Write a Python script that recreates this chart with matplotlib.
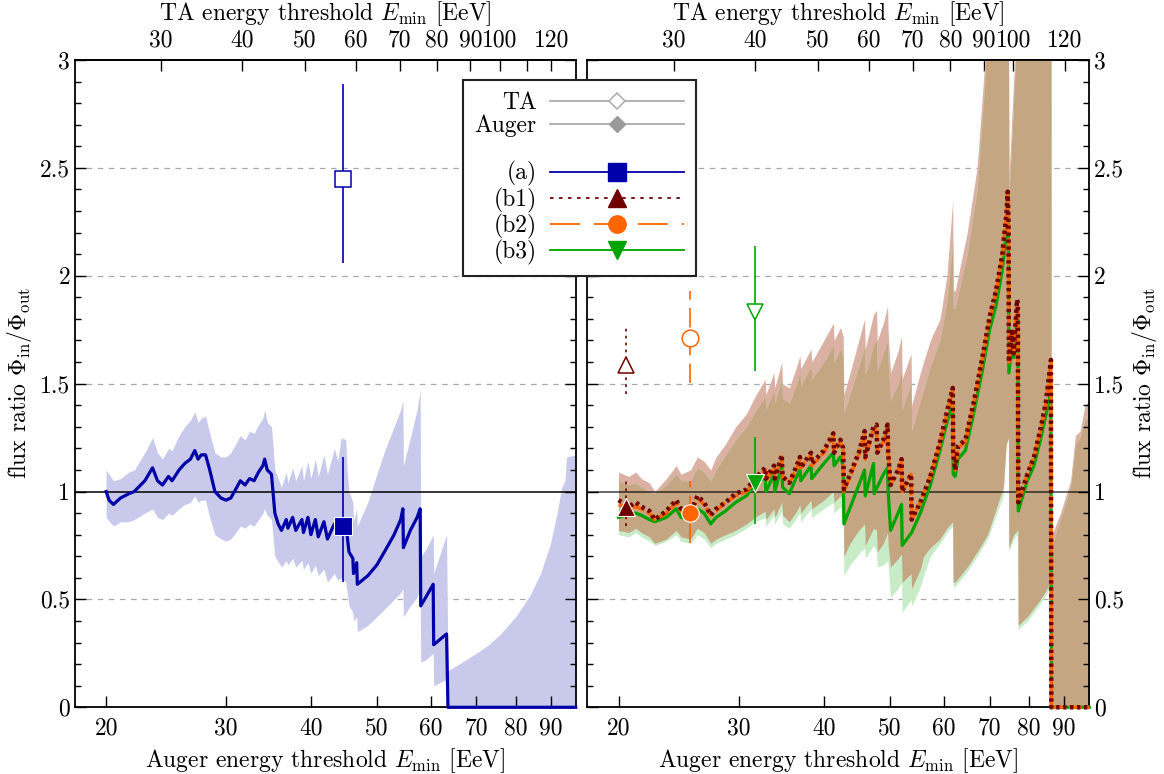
import numpy as np
import matplotlib
matplotlib.use("Agg")
import matplotlib.pyplot as plt
from matplotlib.lines import Line2D
from matplotlib.ticker import NullLocator, NullFormatter, FixedLocator, MultipleLocator

plt.rcParams['font.family'] = 'serif'
plt.rcParams['font.serif'] = ['cmr10']
plt.rcParams['mathtext.fontset'] = 'cm'
plt.rcParams['axes.unicode_minus'] = False
plt.rcParams['axes.formatter.use_mathtext'] = True
plt.rcParams['lines.scale_dashes'] = False
FS = 17

# ---------------- data ----------------
# (a): left panel, Auger energy [EeV] vs flux ratio
a_x = [20.0, 20.2, 20.5, 21.0, 21.6, 22.0, 22.8, 23.4, 23.8, 24.2, 24.7, 25.0, 25.6, 26.1, 26.6,
       27.0, 27.3, 27.6, 28.0, 28.4, 28.9, 29.5, 30.0, 30.5, 31.0, 31.5, 32.0, 32.5, 33.0, 33.5,
       34.0, 34.2, 34.5, 35.0, 35.4, 35.8, 36.2, 36.8, 37.0, 37.6, 38.0, 38.8, 39.0, 39.6, 40.0,
       40.6, 41.0, 41.8, 42.3, 43.3, 43.8, 44.3, 45.0, 45.2, 45.5, 46.1, 46.2, 46.7, 46.8, 48.5,
       50.0, 51.5, 53.0, 54.2, 54.6, 54.7, 56.0, 57.3, 57.9, 58.0, 59.0, 60.5, 60.6, 63.3, 63.6, 98.0]
a_y = [1.00, 0.96, 0.94, 0.97, 0.99, 1.00, 1.05, 1.11, 1.05, 1.03, 1.07, 1.05, 1.10, 1.13, 1.15,
       1.19, 1.15, 1.17, 1.17, 1.10, 1.00, 0.97, 0.96, 0.97, 1.01, 1.05, 1.03, 1.06, 1.05, 1.09,
       1.12, 1.15, 1.10, 1.08, 0.90, 0.85, 0.82, 0.87, 0.83, 0.88, 0.82, 0.87, 0.81, 0.88, 0.80,
       0.87, 0.79, 0.86, 0.78, 0.85, 0.80, 0.85, 0.84, 0.80, 0.72, 0.69, 0.62, 0.67, 0.57, 0.61,
       0.66, 0.73, 0.80, 0.87, 0.92, 0.74, 0.82, 0.88, 0.92, 0.47, 0.51, 0.57, 0.29, 0.34, 0.00, 0.00]

a_band_x = [20.0, 20.5, 21.0, 21.6, 22.0, 22.8, 23.4, 23.8, 24.2, 24.7, 25.0, 25.6, 26.1, 26.6, 27.0,
            27.3, 27.6, 28.0, 28.4, 28.9, 29.5, 30.0, 30.5, 31.0, 31.5, 32.0, 32.5, 33.0, 33.5, 34.0,
            34.2, 34.5, 35.0, 35.4, 36.2, 36.8, 37.0, 37.6, 38.0, 38.8, 39.0, 39.6, 40.0, 40.6, 41.0,
            41.8, 42.3, 43.3, 43.8, 44.3, 45.0, 45.2, 45.5, 46.1, 46.2, 46.7, 46.8, 48.5, 50.0, 51.5,
            53.0, 54.2, 54.6, 54.7, 56.0, 57.3, 57.9, 58.0, 59.0, 60.5, 60.6, 63.3, 63.6, 66.0, 70.0,
            73.0, 76.0, 80.0, 84.0, 87.0, 90.0, 92.0, 93.5, 94.5, 95.0, 98.0]
a_band_hi = [1.10, 1.05, 1.06, 1.09, 1.10, 1.18, 1.25, 1.18, 1.15, 1.20, 1.19, 1.26, 1.30, 1.33, 1.37,
             1.32, 1.34, 1.35, 1.27, 1.18, 1.16, 1.16, 1.18, 1.22, 1.26, 1.24, 1.28, 1.27, 1.31, 1.34,
             1.38, 1.32, 1.30, 1.10, 1.02, 1.09, 1.04, 1.11, 1.05, 1.12, 1.05, 1.14, 1.06, 1.15, 1.07,
             1.17, 1.08, 1.20, 1.14, 1.25, 1.24, 1.10, 1.00, 0.95, 0.86, 0.92, 0.84, 0.95, 1.08, 1.20,
             1.30, 1.38, 1.42, 1.12, 1.25, 1.38, 1.47, 0.70, 0.73, 0.80, 0.62, 0.80, 0.17, 0.20, 0.25,
             0.29, 0.34, 0.42, 0.52, 0.62, 0.76, 0.90, 1.02, 1.05, 1.16, 1.17]
a_band_lo = [0.88, 0.84, 0.86, 0.86, 0.87, 0.90, 0.92, 0.88, 0.87, 0.90, 0.89, 0.92, 0.94, 0.95, 0.98,
             0.95, 0.96, 0.96, 0.88, 0.80, 0.78, 0.77, 0.78, 0.81, 0.84, 0.83, 0.85, 0.84, 0.87, 0.90,
             0.92, 0.89, 0.87, 0.70, 0.65, 0.68, 0.66, 0.69, 0.65, 0.68, 0.64, 0.67, 0.62, 0.66, 0.61,
             0.64, 0.58, 0.62, 0.59, 0.60, 0.58, 0.54, 0.47, 0.44, 0.40, 0.42, 0.35, 0.38, 0.42, 0.46,
             0.50, 0.53, 0.55, 0.42, 0.47, 0.51, 0.55, 0.21, 0.22, 0.25, 0.10, 0.13, 0.00, 0.00, 0.00,
             0.00, 0.00, 0.00, 0.00, 0.00, 0.00, 0.00, 0.00, 0.00, 0.00, 0.00]

# (a) data points: x, value, lower, upper
a_ta = [44.6, 2.45, 2.06, 2.89]
a_auger = [44.6, 0.84, 0.58, 1.16]

# (b1), (b2): right panel
b2_x = [20.0, 20.5, 20.7, 21.2, 21.6, 22.2, 22.6, 23.5, 24.3, 24.7, 25.5, 26.1, 26.7, 27.3, 27.8,
        28.7, 29.7, 30.8, 31.7, 32.8, 32.9, 33.8, 33.9, 34.7, 34.8, 35.6, 36.5, 36.9, 37.0, 38.3,
        38.4, 40.0, 40.8, 41.3, 41.4, 42.3, 42.7, 42.8, 43.7, 45.0, 45.9, 46.0, 47.3, 47.8, 47.9,
        48.9, 49.6, 49.7, 50.1, 51.4, 52.0, 52.1, 52.9, 53.7, 53.8, 55.4, 57.3, 59.2, 60.6, 61.8,
        61.9, 62.3, 62.9, 64.5, 66.3, 68.2, 70.0, 71.5, 73.0, 74.1, 74.4, 74.6, 74.7, 75.5, 75.9,
        76.8, 77.0, 77.1, 79.5, 81.3, 83.1, 84.6, 85.8, 86.1, 86.2, 98.0]
b2_y = [0.94, 0.93, 0.92, 0.93, 0.92, 0.90, 0.87, 0.90, 0.95, 0.91, 0.89, 0.97, 0.94, 0.89, 0.91,
        0.95, 0.98, 1.00, 1.05, 1.10, 1.05, 1.11, 1.06, 1.16, 1.07, 1.04, 1.11, 1.15, 1.11, 1.17,
        1.12, 1.18, 1.23, 1.26, 1.18, 1.23, 1.19, 1.00, 1.07, 1.17, 1.27, 1.15, 1.29, 1.30, 1.18,
        1.23, 1.30, 1.18, 1.03, 1.10, 1.15, 1.00, 1.04, 1.08, 0.87, 0.95, 1.07, 1.22, 1.36, 1.47,
        1.18, 1.10, 1.20, 1.23, 1.40, 1.60, 1.80, 1.92, 2.08, 2.28, 2.38, 2.25, 1.60, 1.73, 1.64,
        1.88, 1.86, 0.95, 1.08, 1.16, 1.28, 1.40, 1.56, 1.60, 0.00, 0.00]
b1_y = [0.96, 0.94, 0.93, 0.95, 0.93, 0.91, 0.87, 0.91, 0.96, 0.92, 0.90, 0.98, 0.95, 0.89, 0.92,
        0.95, 0.99, 1.01, 1.06, 1.11, 1.06, 1.12, 1.06, 1.17, 1.07, 1.04, 1.12, 1.16, 1.11, 1.18,
        1.13, 1.19, 1.24, 1.27, 1.18, 1.24, 1.20, 1.01, 1.08, 1.18, 1.28, 1.16, 1.30, 1.31, 1.18,
        1.24, 1.31, 1.18, 1.03, 1.10, 1.15, 1.00, 1.04, 1.08, 0.87, 0.95, 1.07, 1.23, 1.37, 1.48,
        1.18, 1.10, 1.21, 1.24, 1.41, 1.61, 1.81, 1.93, 2.09, 2.29, 2.39, 2.26, 1.60, 1.74, 1.64,
        1.89, 1.87, 0.95, 1.08, 1.16, 1.29, 1.41, 1.57, 1.61, 0.00, 0.00]

# (b3)
b3_x = [20.0, 20.5, 21.2, 21.6, 22.2, 22.6, 23.5, 24.3, 24.7, 25.5, 26.1, 26.7, 27.3, 27.8, 28.7,
        29.7, 30.8, 31.7, 32.8, 32.9, 33.8, 33.9, 34.7, 34.8, 35.6, 36.5, 36.9, 37.0, 38.3, 38.4,
        40.0, 41.3, 41.4, 42.3, 42.7, 42.8, 45.9, 46.0, 47.3, 47.4, 48.9, 49.6, 49.7, 50.1, 51.4,
        52.0, 52.1, 53.8, 55.4, 57.3, 59.2, 60.6, 61.8, 61.9, 62.3, 62.9, 64.5, 66.3, 68.2, 70.0,
        71.5, 73.0, 74.1, 74.4, 74.6, 74.7, 75.5, 75.9, 76.8, 77.0, 77.1, 79.5, 81.3, 83.1, 84.6,
        85.8, 86.1, 86.2, 98.0]
b3_y = [0.88, 0.89, 0.90, 0.89, 0.87, 0.86, 0.88, 0.92, 0.88, 0.87, 0.92, 0.90, 0.85, 0.88, 0.91,
        0.95, 0.98, 1.03, 1.07, 1.00, 1.08, 1.00, 1.12, 1.02, 0.99, 1.07, 1.10, 1.05, 1.12, 1.06,
        1.13, 1.18, 1.12, 1.16, 1.12, 0.85, 1.10, 0.98, 1.13, 0.99, 1.08, 1.11, 1.00, 0.82, 0.90,
        0.94, 0.75, 0.81, 0.90, 1.03, 1.19, 1.32, 1.41, 1.08, 1.07, 1.15, 1.19, 1.36, 1.55, 1.75,
        1.86, 2.02, 2.20, 2.27, 2.15, 1.55, 1.68, 1.62, 1.80, 1.82, 0.91, 1.05, 1.12, 1.24, 1.35,
        1.44, 1.46, 0.00, 0.00]

# bands of the right panel
b_band_x = [20.0, 20.7, 21.2, 21.6, 22.2, 22.6, 23.5, 24.3, 24.7, 25.5, 26.1, 26.7, 27.3, 27.8, 28.7,
            29.7, 30.8, 31.7, 32.8, 32.9, 33.8, 33.9, 34.7, 34.8, 35.6, 36.5, 36.9, 37.0, 38.3, 38.4,
            40.0, 41.3, 41.4, 42.3, 42.7, 42.8, 43.7, 45.0, 45.9, 46.0, 47.3, 47.8, 47.9, 48.9, 49.6,
            49.7, 50.1, 51.4, 52.0, 52.1, 52.9, 53.7, 53.8, 55.4, 56.0, 57.3, 59.2, 60.6, 61.8, 61.9,
            62.3, 64.9, 67.1, 68.9, 69.5, 73.3, 74.0, 74.6, 74.7, 75.9, 76.9, 77.0, 77.1, 79.5, 83.1,
            86.1, 86.2, 86.4, 88.9, 92.0, 93.5, 95.0, 96.6, 98.0]
b1_hi = [1.09, 1.07, 1.09, 1.06, 1.04, 1.00, 1.06, 1.12, 1.08, 1.10, 1.16, 1.14, 1.10, 1.16, 1.22,
         1.30, 1.36, 1.44, 1.52, 1.45, 1.55, 1.48, 1.60, 1.50, 1.48, 1.58, 1.63, 1.57, 1.66, 1.60,
         1.70, 1.78, 1.70, 1.76, 1.72, 1.45, 1.55, 1.70, 1.80, 1.66, 1.82, 1.84, 1.70, 1.78, 1.86,
         1.74, 1.55, 1.65, 1.72, 1.52, 1.58, 1.64, 1.40, 1.55, 1.60, 1.70, 1.80, 2.00, 2.35, 1.93,
         1.93, 2.20, 2.50, 3.00, 3.20, 3.20, 3.20, 3.20, 2.45, 2.90, 3.20, 3.20, 3.20, 3.20, 3.20,
         3.20, 0.00, 0.80, 0.90, 1.05, 1.26, 1.28, 1.40, 1.42]
b2_hi = [1.05, 1.03, 1.04, 1.02, 1.00, 0.99, 1.03, 1.08, 1.05, 1.05, 1.11, 1.09, 1.05, 1.10, 1.17,
         1.24, 1.30, 1.37, 1.44, 1.38, 1.47, 1.41, 1.52, 1.43, 1.41, 1.50, 1.55, 1.49, 1.58, 1.52,
         1.60, 1.68, 1.60, 1.66, 1.62, 1.36, 1.45, 1.58, 1.67, 1.54, 1.68, 1.70, 1.56, 1.64, 1.70,
         1.60, 1.42, 1.50, 1.56, 1.38, 1.44, 1.50, 1.28, 1.42, 1.47, 1.58, 1.70, 1.88, 2.15, 1.85,
         1.85, 2.10, 2.40, 2.90, 3.20, 3.20, 3.20, 3.20, 2.35, 2.80, 3.20, 3.20, 3.20, 3.20, 3.20,
         3.20, 0.00, 0.75, 0.87, 1.02, 1.22, 1.25, 1.33, 1.35]
b2_lo = [0.82, 0.81, 0.83, 0.81, 0.79, 0.76, 0.78, 0.82, 0.79, 0.78, 0.83, 0.81, 0.76, 0.78, 0.80,
         0.82, 0.85, 0.88, 0.91, 0.87, 0.92, 0.88, 0.95, 0.89, 0.86, 0.91, 0.94, 0.90, 0.96, 0.92,
         0.96, 1.00, 0.95, 0.98, 0.96, 0.70, 0.76, 0.82, 0.85, 0.75, 0.83, 0.82, 0.72, 0.76, 0.81,
         0.75, 0.65, 0.69, 0.71, 0.58, 0.60, 0.62, 0.55, 0.64, 0.70, 0.74, 0.78, 0.83, 0.86, 0.58,
         0.58, 0.65, 0.72, 0.78, 0.80, 1.02, 1.22, 1.25, 0.74, 0.80, 0.82, 0.82, 0.38, 0.42, 0.50,
         0.58, 0.00, 0.00, 0.00, 0.00, 0.00, 0.00, 0.00, 0.00]
b3_lo = [0.80, 0.79, 0.81, 0.79, 0.77, 0.75, 0.77, 0.80, 0.77, 0.76, 0.80, 0.78, 0.74, 0.76, 0.78,
         0.80, 0.83, 0.86, 0.88, 0.84, 0.89, 0.85, 0.91, 0.85, 0.83, 0.88, 0.90, 0.86, 0.92, 0.88,
         0.92, 0.95, 0.90, 0.93, 0.90, 0.61, 0.66, 0.71, 0.74, 0.69, 0.75, 0.72, 0.65, 0.66, 0.68,
         0.66, 0.51, 0.55, 0.58, 0.44, 0.47, 0.50, 0.47, 0.56, 0.61, 0.70, 0.76, 0.81, 0.84, 0.56,
         0.56, 0.63, 0.70, 0.76, 0.78, 0.98, 1.20, 1.25, 0.72, 0.78, 0.80, 0.80, 0.36, 0.40, 0.48,
         0.56, 0.00, 0.00, 0.00, 0.00, 0.00, 0.00, 0.00, 0.00]

# TA (open) and Auger (filled) points: x, value, lower, upper
b1_ta = [20.5, 1.585, 1.45, 1.76]
b1_auger = [20.5, 0.93, 0.84, 1.055]
b2_ta = [25.5, 1.71, 1.505, 1.93]
b2_auger = [25.5, 0.90, 0.76, 1.05]
b3_ta = [31.7, 1.83, 1.557, 2.14]
b3_auger = [31.7, 1.04, 0.85, 1.254]

x_ticks = [20, 30, 40, 50, 60, 70, 80, 90]
ta_ticks = [30, 40, 50, 60, 70, 80, 90, 100, 110, 120]
ta_labels = ['30', '40', '50', '60', '70', '80', '90', '100', '', '120']
y_ticks = [0, 0.5, 1, 1.5, 2, 2.5, 3]
y_labels = ['0', '0.5', '1', '1.5', '2', '2.5', '3']

# ---------------- styles ----------------
c_blue = '#0000a8'
c_blueband = '#c9c9ec'
c_red = '#700000'
c_orange = '#ff6600'
c_green = '#00a300'
c_pink = '#dbb1a3'
c_brown = '#c4a683'
c_lgreen = '#c8ebc8'
dash_b1 = (0, (2.4, 2.6))
dash_b2 = (0, (9, 2))


def ta_fwd(x):
    return 1.062 * np.power(x, 1.05)


def ta_inv(t):
    return np.power(np.asarray(t) / 1.062, 1 / 1.05)


fig = plt.figure(figsize=(11.64, 7.74), dpi=100)
ax1 = fig.add_axes([75 / 1164, 1 - 707.3 / 774, 500.7 / 1164, 647.3 / 774])
ax2 = fig.add_axes([587.3 / 1164, 1 - 707.3 / 774, 502 / 1164, 647.3 / 774])


def setup(ax, side):
    ax.set_xscale('log')
    ax.set_xlim(18.0, 98.0)
    ax.set_ylim(0, 3)
    ax.xaxis.set_major_locator(FixedLocator(x_ticks))
    ax.set_xticklabels([str(t) for t in x_ticks])
    ax.xaxis.set_minor_locator(NullLocator())
    ax.xaxis.set_minor_formatter(NullFormatter())
    ax.set_yticks(y_ticks)
    ax.set_yticklabels(y_labels)
    ax.yaxis.set_minor_locator(MultipleLocator(0.1))
    ax.tick_params(which='both', direction='in', labelsize=FS, width=1.0, top=False)
    ax.tick_params(which='major', length=8)
    ax.tick_params(which='minor', length=4.5)
    ax.tick_params(axis='y', which='both', left=True, right=True,
                   labelleft=(side == 'left'), labelright=(side == 'right'))
    ax.tick_params(axis='x', pad=7)
    for s in ax.spines.values():
        s.set_linewidth(1.3)
    for g in [0.5, 1.5, 2.0, 2.5]:
        ax.axhline(g, color='#a8a8a8', lw=0.9, ls=(0, (4, 4)), zorder=0.5)
    ax.set_xlabel(r'Auger energy threshold $E_{\rm min}$ [EeV]', fontsize=FS, labelpad=5)
    sec = ax.secondary_xaxis('top', functions=(ta_fwd, ta_inv))
    sec.xaxis.set_major_locator(FixedLocator(ta_ticks))
    sec.set_xticklabels(ta_labels)
    sec.xaxis.set_minor_locator(NullLocator())
    sec.xaxis.set_minor_formatter(NullFormatter())
    sec.tick_params(which='major', direction='in', length=8, width=1.0, labelsize=FS, pad=6)
    sec.spines['top'].set_linewidth(1.3)
    sec.set_xlabel(r'TA energy threshold $E_{\rm min}$ [EeV]', fontsize=FS, labelpad=7)
    ylab = r'flux ratio $\Phi_{\rm in}/\Phi_{\rm out}$'
    if side == 'right':
        ax.yaxis.set_label_position('right')
    ax.set_ylabel(ylab, fontsize=FS, labelpad=4)


def point(ax, p, color, marker, filled, els):
    x, v, lo, hi = p
    ax.vlines(x, lo, hi, colors=color, linestyles=els, lw=1.2, zorder=6)
    if filled:
        ax.plot([x], [v], marker=marker, ms=12.5, mfc=color, mec='white', mew=0.8, ls='none', zorder=7)
    else:
        ax.plot([x], [v], marker=marker, ms=12, mfc='white', mec=color, mew=1.1, ls='none', zorder=7)


setup(ax1, 'left')
setup(ax2, 'right')

# left panel
ax1.fill_between(a_band_x, a_band_lo, a_band_hi, color=c_blueband, lw=0, zorder=1)
ax1.axhline(1.0, color='black', lw=1.1, zorder=2)
ax1.plot(a_x, a_y, color=c_blue, lw=2.3, zorder=4, clip_on=False)
point(ax1, a_ta, c_blue, 's', False, 'solid')
point(ax1, a_auger, c_blue, 's', True, 'solid')

# right panel
ax2.fill_between(b_band_x, b2_lo, b1_hi, color=c_pink, lw=0, zorder=1)
ax2.fill_between(b_band_x, b3_lo, b2_hi, color=c_lgreen, lw=0, zorder=1.1)
ax2.fill_between(b_band_x, b2_lo, b2_hi, color=c_brown, lw=0, zorder=1.2)
ax2.axhline(1.0, color='black', lw=1.1, alpha=0.75, zorder=2)
ax2.plot(b3_x, b3_y, color=c_green, lw=2.3, zorder=4, clip_on=False)
ax2.plot(b2_x, b2_y, color=c_orange, lw=2.6, ls=dash_b2, zorder=4.1, clip_on=False)
ax2.plot(b2_x, b1_y, color=c_red, lw=3.2, ls=dash_b1, zorder=4.2, clip_on=False)
point(ax2, b1_ta, c_red, '^', False, (0, (2, 3)))
point(ax2, b1_auger, c_red, '^', True, (0, (2, 3)))
point(ax2, b2_ta, c_orange, 'o', False, (0, (14, 6)))
point(ax2, b2_auger, c_orange, 'o', True, (0, (14, 6)))
point(ax2, b3_ta, c_green, 'v', False, 'solid')
point(ax2, b3_auger, c_green, 'v', True, 'solid')

# legend
handles = [
    Line2D([], [], color='#ababab', lw=1.3, marker='D', ms=8, mfc='white', mec='#ababab', mew=1.1),
    Line2D([], [], color='#ababab', lw=1.3, marker='D', ms=8, mfc='#9a9a9a', mec='#9a9a9a'),
    Line2D([], [], color='none'),
    Line2D([], [], color=c_blue, lw=1.3, marker='s', ms=12.5, mfc=c_blue, mec=c_blue),
    Line2D([], [], color=c_red, lw=1.3, ls=(0, (2.5, 4)), marker='^', ms=12.5, mfc=c_red, mec=c_red),
    Line2D([], [], color=c_orange, lw=1.3, ls=(0, (21.6, 10)), marker='o', ms=12.5, mfc=c_orange, mec=c_orange),
    Line2D([], [], color=c_green, lw=1.3, marker='v', ms=12.5, mfc=c_green, mec=c_green),
]
labels = ['TA', 'Auger', ' ', '(a)', '(b1)', '(b2)', '(b3)']
leg = fig.legend(handles, labels, loc='upper left', bbox_to_anchor=(462.7 / 1164, 1 - 80 / 774),
                 bbox_transform=fig.transFigure, markerfirst=False, frameon=True, fancybox=False,
                 edgecolor='#222222', framealpha=1, handlelength=5.7, handletextpad=0.55,
                 labelspacing=0.04, borderpad=0.5, borderaxespad=0, fontsize=FS)
leg.get_frame().set_linewidth(1.5)

fig.savefig('out.png', dpi=100)
